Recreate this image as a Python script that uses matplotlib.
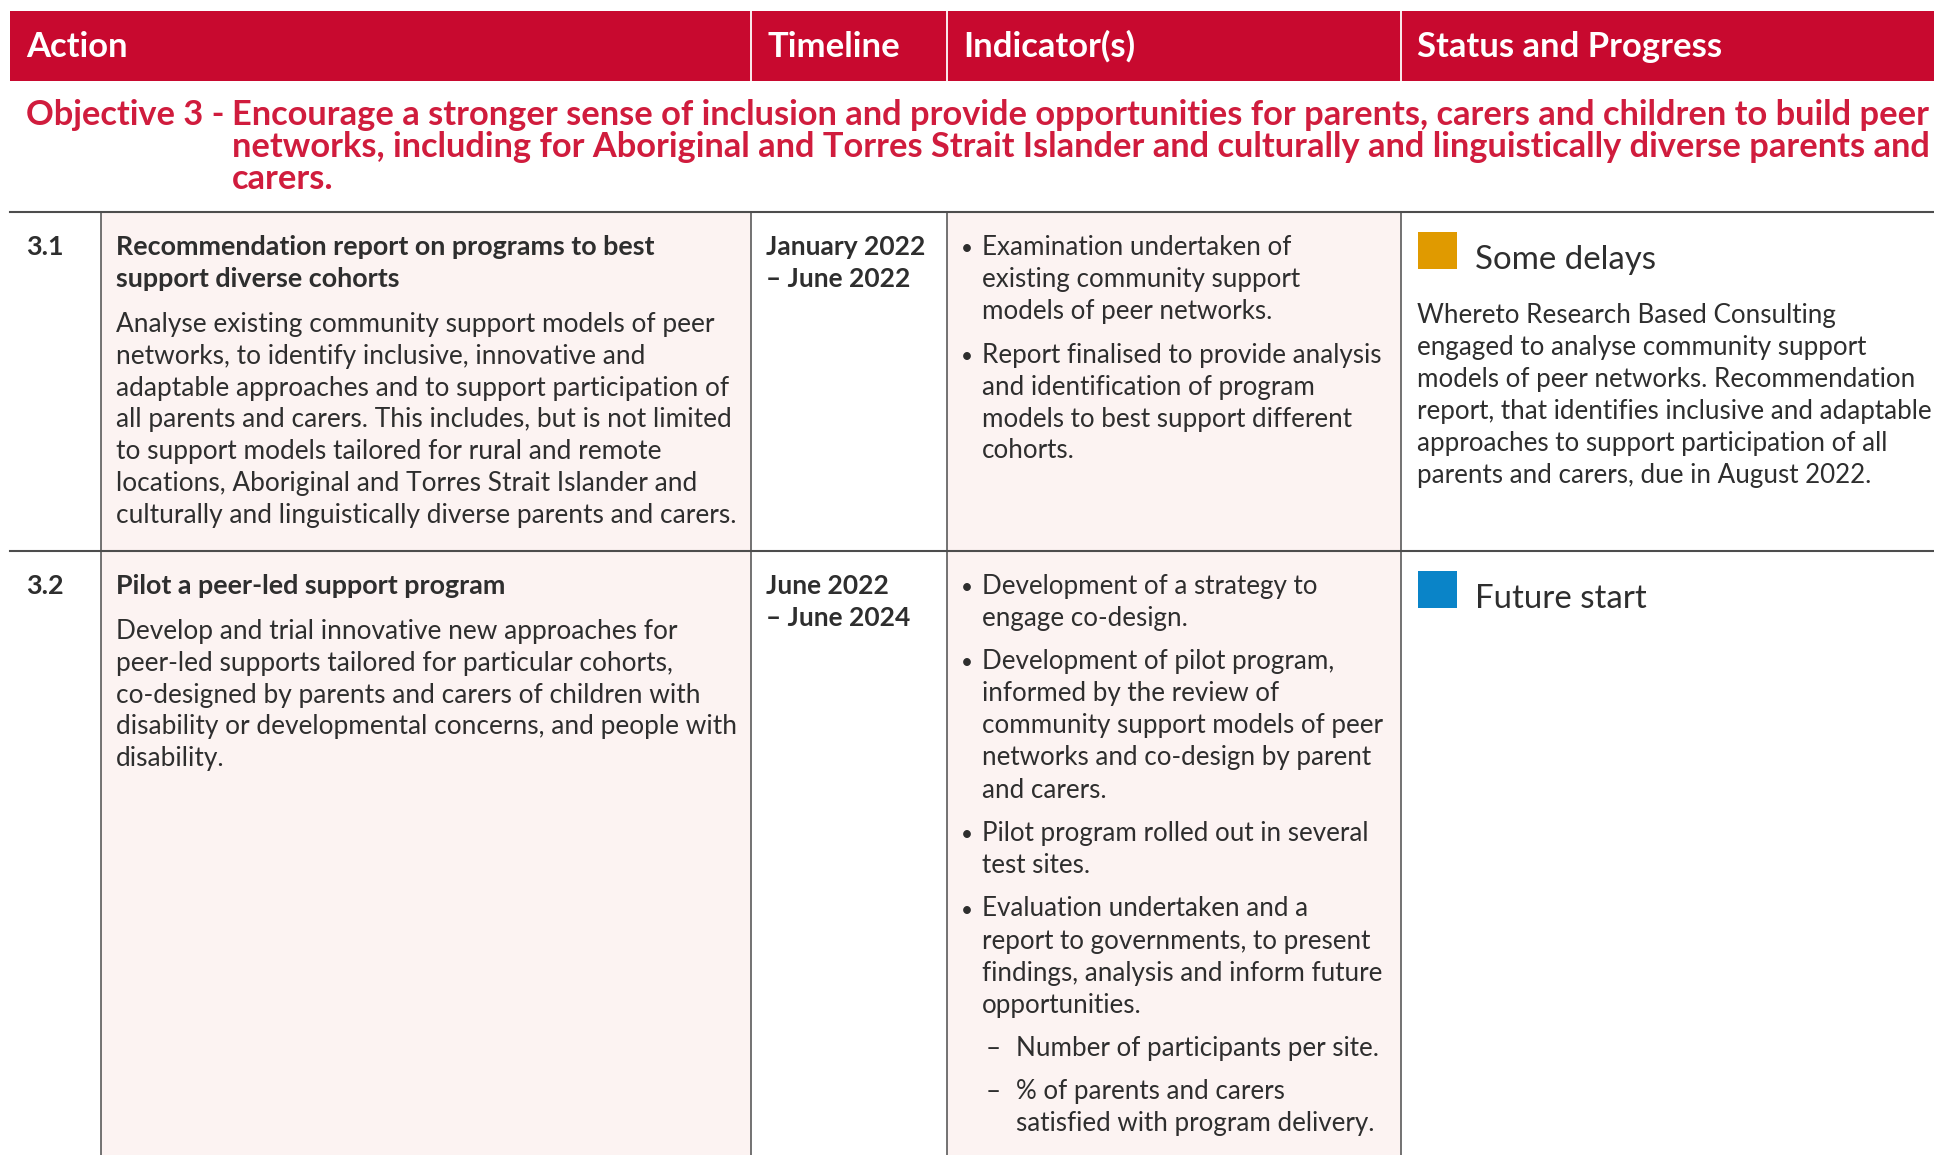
import matplotlib
matplotlib.use("Agg")
import matplotlib.pyplot as plt
from matplotlib.patches import Rectangle

# ---------------- data ----------------
headers = ["Action", "Timeline", "Indicator(s)", "Status and Progress"]
objective_prefix = "Objective 3 -"
objective_lines = [
    "Encourage a stronger sense of inclusion and provide opportunities for parents, carers and children to build peer",
    "networks, including for Aboriginal and Torres Strait Islander and culturally and linguistically diverse parents and",
    "carers.",
]
action_ids = ["3.1", "3.2"]
action_titles = [
    ["Recommendation report on programs to best", "support diverse cohorts"],
    ["Pilot a peer-led support program"],
]
action_bodies = [
    ["Analyse existing community support models of peer",
     "networks, to identify inclusive, innovative and",
     "adaptable approaches and to support participation of",
     "all parents and carers. This includes, but is not limited",
     "to support models tailored for rural and remote",
     "locations, Aboriginal and Torres Strait Islander and",
     "culturally and linguistically diverse parents and carers."],
    ["Develop and trial innovative new approaches for",
     "peer-led supports tailored for particular cohorts,",
     "co-designed by parents and carers of children with",
     "disability or developmental concerns, and people with",
     "disability."],
]
timelines = [["January 2022", "– June 2022"], ["June 2022", "– June 2024"]]
indicators = [
    [("bullet", ["Examination undertaken of", "existing community support", "models of peer networks."]),
     ("bullet", ["Report finalised to provide analysis", "and identification of program",
                 "models to best support different", "cohorts."])],
    [("bullet", ["Development of a strategy to", "engage co-design."]),
     ("bullet", ["Development of pilot program,", "informed by the review of",
                 "community support models of peer", "networks and co-design by parent",
                 "and carers."]),
     ("bullet", ["Pilot program rolled out in several", "test sites."]),
     ("bullet", ["Evaluation undertaken and a", "report to governments, to present",
                 "findings, analysis and inform future", "opportunities."]),
     ("dash", ["Number of participants per site."]),
     ("dash", ["% of parents and carers", "satisfied with program delivery."])],
]
status_labels = ["Some delays", "Future start"]
status_bodies = [
    ["Whereto Research Based Consulting",
     "engaged to analyse community support",
     "models of peer networks. Recommendation",
     "report, that identifies inclusive and adaptable",
     "approaches to support participation of all",
     "parents and carers, due in August 2022."],
    [],
]

# ---------------- style ----------------
W, H = 1934, 1155
RED = "#C8092F"
OBJ_RED = "#D01C3D"
PINK = "#FCF3F2"
LINE = "#4d4d4d"
TXT = "#2e2e2e"
STATUS_COL = {"Some delays": "#E09A00", "Future start": "#0A84C8"}
HEAD_FONT = "Lato"
BODY_FONT = "Lato"

fig = plt.figure(figsize=(W / 100, H / 100), dpi=100)
ax = fig.add_axes([0, 0, 1, 1])
ax.set_xlim(0, W)
ax.set_ylim(H, 0)
ax.axis("off")
renderer = fig.canvas.get_renderer()


def fit(line, target, family, weight="normal"):
    t = ax.text(0, 0, line, fontsize=10, family=family, weight=weight)
    w = t.get_window_extent(renderer).width
    t.remove()
    return 10 * target / w


fs_head = fit("Status and Progress", 306, HEAD_FONT, "bold")
fs_obj = fit(objective_lines[1], 1705, HEAD_FONT, "bold")
fs_title = fit(action_titles[0][0], 541, BODY_FONT, "bold")
fs_body = fit(action_bodies[0][6], 617, BODY_FONT)
fs_time = fit(timelines[0][0], 160, BODY_FONT, "bold")
fs_ind = fit(indicators[0][1][1][0], 400, BODY_FONT)
fs_stat = fit(status_bodies[0][3], 516, BODY_FONT)
fs_lab = fit(status_labels[0], 181, BODY_FONT)

# column x boundaries
xL, x1, x2, x3, x4 = 10, 101, 751, 947, 1401
row_tops = [212, 551]
row_bots = [551, H]

# pink fills
for top, bot in zip(row_tops, row_bots):
    ax.add_patch(Rectangle((x1, top), x2 - x1, bot - top, facecolor=PINK, edgecolor="none", zorder=0))
    ax.add_patch(Rectangle((x3, top), x4 - x3, bot - top, facecolor=PINK, edgecolor="none", zorder=0))

# header band
ax.add_patch(Rectangle((xL, 11), W - xL, 70, facecolor=RED, edgecolor="none", zorder=1))
for xs in (x2, x3, x4):
    ax.plot([xs, xs], [11, 81], color="white", lw=1.3, zorder=2)
for hx, h in zip([26, 767, 963, 1417], headers):
    ax.text(hx, 57, h, fontsize=fs_head, family=HEAD_FONT, weight="bold", color="white",
            va="baseline", ha="left", zorder=3)

# objective
ax.text(26, 125, objective_prefix, fontsize=fs_obj, family=HEAD_FONT, weight="bold", color=OBJ_RED,
        va="baseline")
for i, line in enumerate(objective_lines):
    ax.text(232, 125 + i * 31.8, line, fontsize=fs_obj, family=HEAD_FONT, weight="bold",
            color=OBJ_RED, va="baseline")

# grid lines
for y in row_tops:
    ax.plot([xL, W], [y, y], color=LINE, lw=1.5, zorder=2)
for xs in (x1, x2, x3, x4):
    ax.plot([xs, xs], [212, H], color=LINE, lw=1.1, zorder=2)

LS = 32.0        # line spacing
GAP = 13         # paragraph gap in action column
GAP_IND = 11.5   # gap between indicator items
first_base = [255, 594]
for r in range(2):
    b0 = first_base[r]
    ax.text(26, b0, action_ids[r], fontsize=fs_title, family=BODY_FONT, weight="bold", color=TXT,
            va="baseline")
    y = b0
    for line in action_titles[r]:
        ax.text(116, y, line, fontsize=fs_title, family=BODY_FONT, weight="bold", color=TXT, va="baseline")
        y += LS
    y += GAP
    for line in action_bodies[r]:
        ax.text(116, y, line, fontsize=fs_body, family=BODY_FONT, color=TXT, va="baseline")
        y += LS - 0.2
    # timeline
    y = b0
    for line in timelines[r]:
        ax.text(766, y, line, fontsize=fs_time, family=BODY_FONT, weight="bold", color=TXT, va="baseline")
        y += LS
    # indicators
    y = b0
    for k, (kind, lines) in enumerate(indicators[r]):
        if k > 0:
            y += GAP_IND
        if kind == "bullet":
            ax.text(967, y, "•", fontsize=fs_ind * 0.8, family=BODY_FONT, color=TXT,
                    va="baseline", ha="center")
            tx = 982
        else:
            ax.text(993, y, "–", fontsize=fs_ind, family=BODY_FONT, color=TXT,
                    va="baseline", ha="center")
            tx = 1016
        for line in lines:
            ax.text(tx, y, line, fontsize=fs_ind, family=BODY_FONT, color=TXT, va="baseline")
            y += LS
    # status
    lab = status_labels[r]
    sq_top = row_tops[r] + 20
    ax.add_patch(Rectangle((1418, sq_top), 39, 37, facecolor=STATUS_COL[lab], edgecolor="none", zorder=3))
    ax.text(1475, sq_top + 37, lab, fontsize=fs_lab, family=BODY_FONT, color=TXT, va="baseline")
    y = 323
    for line in status_bodies[r]:
        ax.text(1417, y, line, fontsize=fs_stat, family=BODY_FONT, color=TXT, va="baseline")
        y += LS

fig.savefig("out.png", dpi=100, facecolor="white")
